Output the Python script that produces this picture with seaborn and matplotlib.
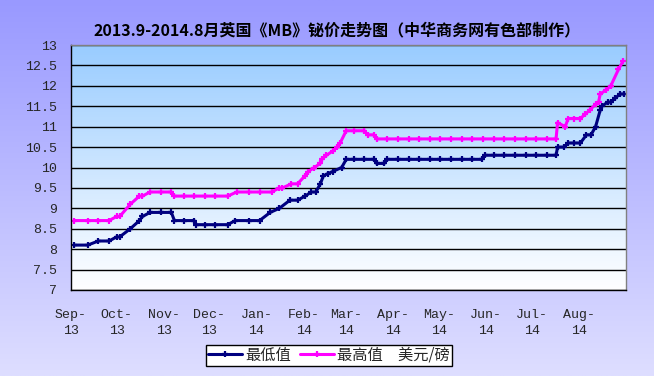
import numpy as np
import pandas as pd
import seaborn as sns
import matplotlib.pyplot as plt

# 数据：最低值
low_dates = ['2013-09-03', '2013-09-12', '2013-09-19', '2013-09-26', '2013-10-01', '2013-10-03',
             '2013-10-10', '2013-10-16', '2013-10-18', '2013-10-23', '2013-10-30', '2013-11-06',
             '2013-11-08', '2013-11-14', '2013-11-21', '2013-11-22', '2013-11-28', '2013-12-05',
             '2013-12-13', '2013-12-18', '2013-12-27', '2014-01-03', '2014-01-10', '2014-01-16',
             '2014-01-23', '2014-01-28', '2014-02-02', '2014-02-06', '2014-02-09', '2014-02-12',
             '2014-02-14', '2014-02-17', '2014-02-20', '2014-02-26', '2014-03-01', '2014-03-06',
             '2014-03-13', '2014-03-19', '2014-03-21', '2014-03-26', '2014-03-28', '2014-04-04',
             '2014-04-11', '2014-04-18', '2014-04-25', '2014-05-02', '2014-05-09', '2014-05-16',
             '2014-05-23', '2014-05-29', '2014-05-31', '2014-06-06', '2014-06-13', '2014-06-20',
             '2014-06-27', '2014-07-04', '2014-07-11', '2014-07-17', '2014-07-18', '2014-07-22',
             '2014-07-25', '2014-07-29', '2014-08-02', '2014-08-06', '2014-08-09', '2014-08-12',
             '2014-08-15', '2014-08-16', '2014-08-20', '2014-08-22', '2014-08-25', '2014-08-28',
             '2014-08-31']
low_vals = [8.1, 8.1, 8.2, 8.2, 8.3, 8.3,
            8.5, 8.7, 8.8, 8.9, 8.9, 8.9,
            8.7, 8.7, 8.7, 8.6, 8.6, 8.6,
            8.6, 8.7, 8.7, 8.7, 8.9, 9.0,
            9.2, 9.2, 9.3, 9.4, 9.4, 9.6,
            9.8, 9.85, 9.9, 10.0, 10.2, 10.2,
            10.2, 10.2, 10.1, 10.1, 10.2, 10.2,
            10.2, 10.2, 10.2, 10.2, 10.2, 10.2,
            10.2, 10.2, 10.3, 10.3, 10.3, 10.3,
            10.3, 10.3, 10.3, 10.3, 10.5, 10.5,
            10.6, 10.6, 10.6, 10.8, 10.8, 11.0,
            11.4, 11.5, 11.6, 11.6, 11.7, 11.8,
            11.8]

# 数据：最高值
high_dates = ['2013-09-03', '2013-09-12', '2013-09-19', '2013-09-26', '2013-10-01', '2013-10-03',
              '2013-10-10', '2013-10-16', '2013-10-18', '2013-10-23', '2013-10-30', '2013-11-06',
              '2013-11-08', '2013-11-14', '2013-11-21', '2013-11-28', '2013-12-05', '2013-12-13',
              '2013-12-19', '2013-12-27', '2014-01-03', '2014-01-11', '2014-01-16', '2014-01-18',
              '2014-01-24', '2014-01-28', '2014-02-02', '2014-02-04', '2014-02-08', '2014-02-12',
              '2014-02-13', '2014-02-16', '2014-02-20', '2014-02-23', '2014-02-25', '2014-03-01',
              '2014-03-06', '2014-03-13', '2014-03-15', '2014-03-19', '2014-03-21', '2014-03-28',
              '2014-04-04', '2014-04-11', '2014-04-18', '2014-04-25', '2014-05-02', '2014-05-09',
              '2014-05-16', '2014-05-23', '2014-05-30', '2014-06-06', '2014-06-13', '2014-06-20',
              '2014-06-27', '2014-07-04', '2014-07-11', '2014-07-17', '2014-07-18', '2014-07-23',
              '2014-07-25', '2014-07-29', '2014-08-02', '2014-08-05', '2014-08-08', '2014-08-12',
              '2014-08-14', '2014-08-15', '2014-08-19', '2014-08-22', '2014-08-27', '2014-08-30']
high_vals = [8.7, 8.7, 8.7, 8.7, 8.8, 8.8,
             9.1, 9.3, 9.3, 9.4, 9.4, 9.4,
             9.3, 9.3, 9.3, 9.3, 9.3, 9.3,
             9.4, 9.4, 9.4, 9.4, 9.5, 9.5,
             9.6, 9.6, 9.8, 9.9, 10.0, 10.1,
             10.2, 10.3, 10.4, 10.5, 10.6, 10.9,
             10.9, 10.9, 10.8, 10.8, 10.7, 10.7,
             10.7, 10.7, 10.7, 10.7, 10.7, 10.7,
             10.7, 10.7, 10.7, 10.7, 10.7, 10.7,
             10.7, 10.7, 10.7, 10.7, 11.1, 11.0,
             11.2, 11.2, 11.2, 11.3, 11.4, 11.55,
             11.6, 11.8, 11.9, 12.0, 12.4, 12.6]

month_starts = ['2013-09-01', '2013-10-01', '2013-11-01', '2013-12-01', '2014-01-01', '2014-02-01',
                '2014-03-01', '2014-04-01', '2014-05-01', '2014-06-01', '2014-07-01', '2014-08-01',
                '2014-09-01']
month_labels = ['Sep-\n13', 'Oct-\n13', 'Nov-\n13', 'Dec-\n13', 'Jan-\n14', 'Feb-\n14',
                'Mar-\n14', 'Apr-\n14', 'May-\n14', 'Jun-\n14', 'Jul-\n14', 'Aug-\n14', '']
y_ticks = [7, 7.5, 8, 8.5, 9, 9.5, 10, 10.5, 11, 11.5, 12, 12.5, 13]
y_labels = ['7', '7.5', '8', '8.5', '9', '9.5', '10', '10.5', '11', '11.5', '12', '12.5', '13']

df_low = pd.DataFrame({'date': pd.to_datetime(low_dates), 'price': low_vals})
df_high = pd.DataFrame({'date': pd.to_datetime(high_dates), 'price': high_vals})

sns.set_theme(style="white")
plt.rcParams['font.family'] = ['Noto Sans CJK SC', 'DejaVu Sans']
plt.rcParams['axes.unicode_minus'] = False

fig = plt.figure(figsize=(6.54, 3.76), dpi=100)

# 背景渐变
bg_ax = fig.add_axes([0, 0, 1, 1], zorder=-10)
t = np.linspace(0, 1, 256)[:, None]
top_c = np.array([153, 153, 255]) / 255
bot_c = np.array([222, 222, 255]) / 255
bg = (top_c * (1 - t) + bot_c * t)[:, None, :].repeat(2, axis=1)
bg_ax.imshow(bg, aspect='auto', extent=[0, 1, 0, 1])
bg_ax.axis('off')

pos = [71 / 654, 1 - 290 / 376, 555 / 654, 245 / 376]
grad_ax = fig.add_axes(pos, zorder=-5)
top_p = np.array([153, 204, 255]) / 255
bot_p = np.array([255, 255, 255]) / 255
pg = (top_p * (1 - t) + bot_p * t)[:, None, :].repeat(2, axis=1)
grad_ax.imshow(pg, aspect='auto', extent=[0, 1, 0, 1])
grad_ax.axis('off')

ax = fig.add_axes(pos, zorder=0)
ax.set_facecolor('none')

# 绘制两条折线
sns.lineplot(data=df_low, x='date', y='price', color='#000080', label='最低值',
             marker='+', markersize=5, markeredgewidth=1.6, markeredgecolor='#000080',
             linewidth=2.2, ax=ax)
sns.lineplot(data=df_high, x='date', y='price', color='#FF00FF', label='最高值\u3000美元/磅',
             marker='+', markersize=5, markeredgewidth=1.6, markeredgecolor='#FF00FF',
             linewidth=2.2, ax=ax)

tick_font = ['Liberation Mono', 'DejaVu Sans Mono']
ax.set_xlim(pd.Timestamp('2013-09-01'), pd.Timestamp('2014-09-01'))
ax.set_ylim(7, 13)
ax.set_xticks(pd.to_datetime(month_starts))
ax.set_xticklabels(month_labels, family=tick_font, fontsize=9.5, linespacing=1.45)
ax.set_yticks(y_ticks)
ax.set_yticklabels(y_labels, family=tick_font, fontsize=9.5)
ax.tick_params(axis='x', direction='in', length=5, width=1, color='black', pad=14)
ax.tick_params(axis='y', direction='out', length=4, width=1, color='black', pad=6)
ax.set_xlabel('')
ax.set_ylabel('')

ax.yaxis.grid(True, color='black', linewidth=1)
ax.xaxis.grid(False)
for s in ['top', 'right']:
    ax.spines[s].set_color('#808080')
    ax.spines[s].set_linewidth(1)
for s in ['left', 'bottom']:
    ax.spines[s].set_color('black')
    ax.spines[s].set_linewidth(1)

ax.get_legend().remove()
handles, labels = ax.get_legend_handles_labels()
leg = fig.legend(handles, labels, loc='center', bbox_to_anchor=(0.503, 0.055), ncol=2,
                 fontsize=11, frameon=True, fancybox=False, framealpha=1, edgecolor='black',
                 borderpad=0.15, handlelength=2.2, handletextpad=0.2, columnspacing=0.6,
                 borderaxespad=0)
leg.get_frame().set_linewidth(1)

fig.text(0.516, 0.92, '2013.9-2014.8月英国《MB》铋价走势图（中华商务网有色部制作）',
         ha='center', va='center', fontsize=11.5, fontweight='bold', color='black')

plt.savefig('out.png', dpi=100)
